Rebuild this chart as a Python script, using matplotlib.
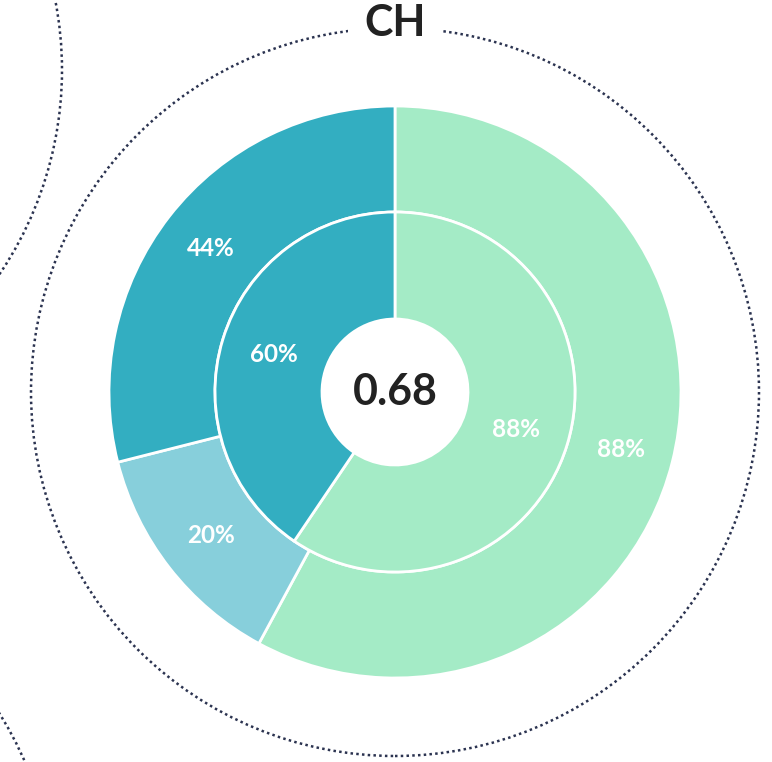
import matplotlib
matplotlib.use("Agg")
import matplotlib.pyplot as plt
import numpy as np
from matplotlib.patches import Circle

# data
title = "CH"
score = 0.68
outer_values = [88, 20, 44]
outer_colors = ["#a4ebc6", "#87cfdb", "#33aec1"]
inner_values = [88, 60]
inner_colors = ["#a4ebc6", "#33aec1"]

plt.rcParams['font.family'] = ['Lato', 'DejaVu Sans']

fig = plt.figure(figsize=(7.72, 7.62), dpi=100)
ax = fig.add_axes([0, 0, 1, 1])

cx, cy = 395, 370

outer, _ = ax.pie(outer_values, radius=286, center=(cx, cy), startangle=90,
                  counterclock=False, colors=outer_colors,
                  wedgeprops=dict(width=106, edgecolor="white", linewidth=2))
inner, _ = ax.pie(inner_values, radius=180, center=(cx, cy), startangle=90,
                  counterclock=False, colors=inner_colors,
                  wedgeprops=dict(width=107, edgecolor="white", linewidth=2))

# value labels in the middle of each ring
for wedges, vals in [(outer, outer_values), (inner, inner_values)]:
    for w, v in zip(wedges, vals):
        ang = np.deg2rad((w.theta1 + w.theta2) / 2)
        r = w.r - w.width / 2
        ax.text(w.center[0] + r * np.cos(ang), w.center[1] + r * np.sin(ang),
                "%d%%" % v, color="white", fontsize=17.5, fontweight="bold",
                ha="center", va="center")

ax.text(cx, cy, "%.2f" % score, fontsize=31, fontweight="bold", color="#222222",
        ha="center", va="center")

# dotted outline circles (this one + neighbours peeking in)
dots = dict(fill=False, linestyle=(0, (1, 1.3)), linewidth=1.8, edgecolor="#2b3350")
ax.add_patch(Circle((cx, cy), 364, **dots))
ax.add_patch(Circle((-303, 692), 365, **dots))
ax.add_patch(Circle((-310, -145), 365, **dots))

ax.text(cx, 739, title, fontsize=31, fontweight="bold", color="#222222",
        ha="center", va="center",
        bbox=dict(boxstyle="square,pad=0.38", fc="white", ec="none"))

ax.set_xlim(0, 772)
ax.set_ylim(0, 762)
ax.set_aspect("equal")
ax.axis("off")

plt.savefig("out.png", dpi=100)
